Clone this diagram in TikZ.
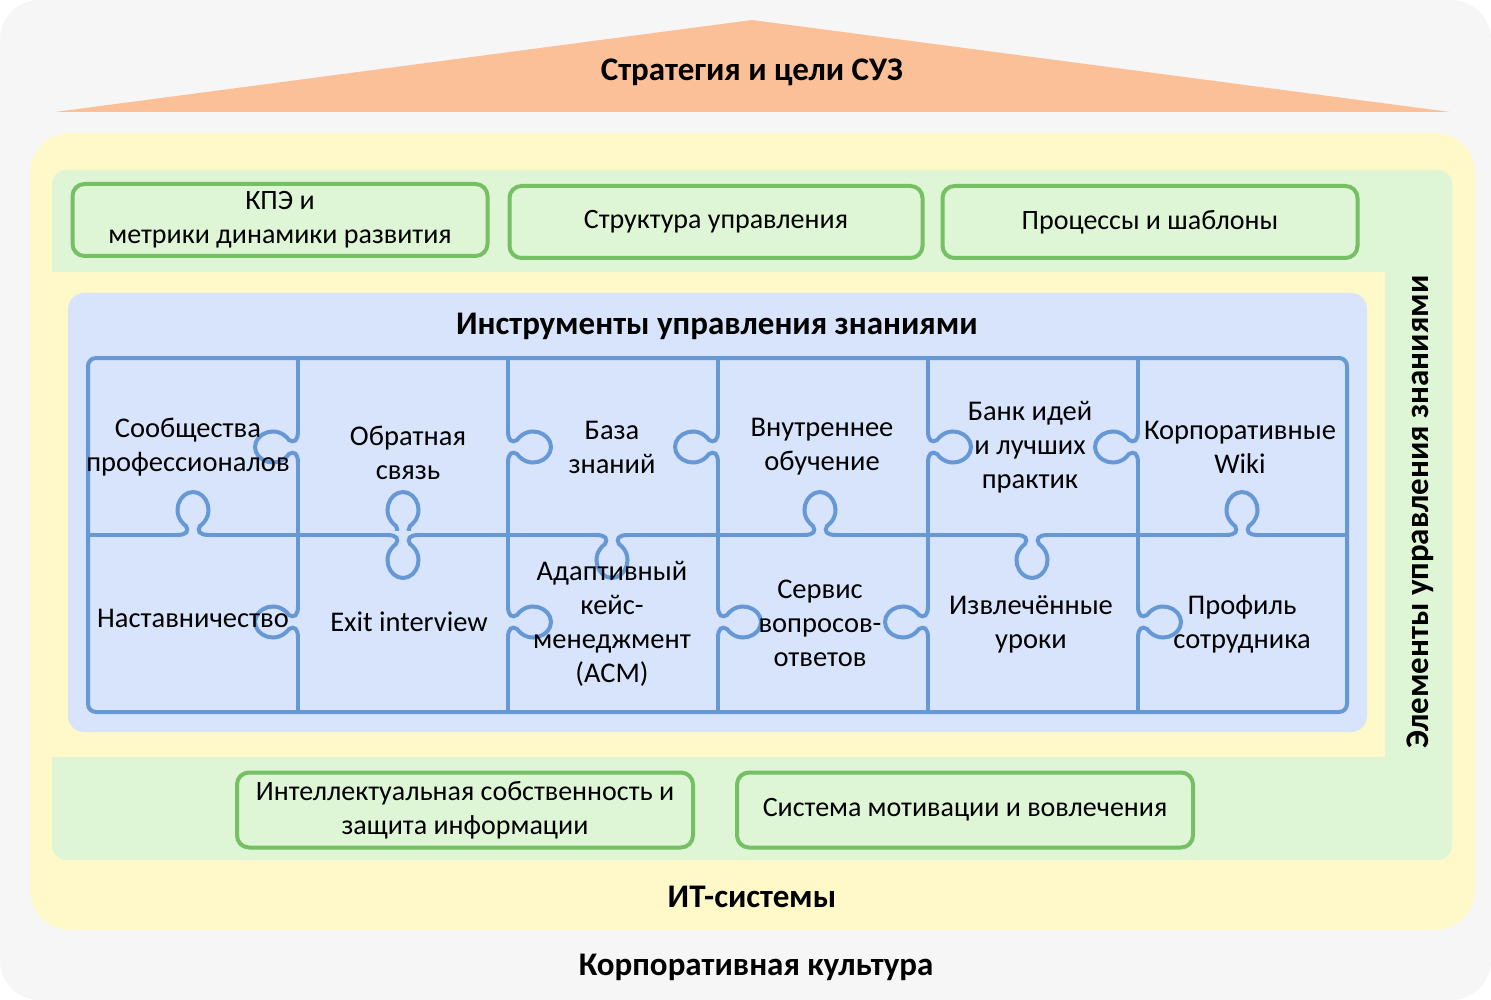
\documentclass[tikz,border=0pt]{standalone}
\usepackage{fontspec}
\setmainfont{Carlito}
\usepackage{xcolor}
\usepackage{tikz}
\usetikzlibrary{positioning, calc}
\definecolor{pagegray}{RGB}{246,246,246}
\definecolor{roof}{RGB}{251,192,152}
\definecolor{itfill}{RGB}{255,248,200}
\definecolor{elemfill}{RGB}{222,245,214}
\definecolor{boxline}{RGB}{116,192,98}
\definecolor{panelblue}{RGB}{215,228,251}
\definecolor{puzzleblue}{RGB}{102,152,214}
\tikzstyle{greenbox} = [draw=boxline, line width=4pt, fill=elemfill, rounded corners=12pt, align=center, inner sep=0pt, font=\fontsize{28}{34}\selectfont]
\tikzstyle{celltext} = [align=center, font=\fontsize{28.5}{34}\selectfont]
\tikzstyle{titletext} = [font=\fontsize{33}{38}\selectfont\bfseries]
\tikzstyle{puzzle} = [draw=puzzleblue, line width=4pt]
\newcommand{\knob}[3]{%
  \begin{scope}[shift={(#1,#2)}, rotate=#3]
    \fill[panelblue] (-16,-4) rectangle (16,4);
    \draw[puzzle] (-16,0) .. controls (-6,0) and (-4,4) .. (-7,9)
      .. controls (-23,21) and (-14,43) .. (0,43)
      .. controls (14,43) and (23,21) .. (7,9)
      .. controls (4,4) and (6,0) .. (16,0);
  \end{scope}}
\begin{document}
\begin{tikzpicture}[x=1pt, y=-1pt]
        \useasboundingbox (0,0) rectangle (1491,1000);
        \fill[white] (0,0) rectangle (1491,1000);
        \fill[pagegray, rounded corners=40pt] (0,0) rectangle (1491,1000);
        % roof
        \fill[roof] (55,112) -- (752,20) -- (1450,112) -- cycle;
        \node[titletext] (strategy) at (752,72) {Стратегия и цели СУЗ};
        % IT systems and knowledge management elements
        \fill[itfill, rounded corners=40pt] (30,133) rectangle (1475,930);
        \fill[elemfill, rounded corners=14pt] (52,170) rectangle (1452,860);
        \fill[itfill] (52,272) rectangle (1385,757);
        \node[greenbox, minimum width=415pt, minimum height=72pt] (kpe) at (280,220) {КПЭ и\\метрики динамики развития};
        \node[greenbox, minimum width=413pt, minimum height=72pt] (struct) at (716,222) {Структура управления};
        \node[greenbox, minimum width=415pt, minimum height=72pt] (proc) at (1150,222) {Процессы и шаблоны};
        \node[greenbox, minimum width=456pt, minimum height=75pt] (ip) at (465,810) {Интеллектуальная собственность и\\защита информации};
        \node[greenbox, minimum width=456pt, minimum height=75pt] (motiv) at (965,810) {Система мотивации и вовлечения};
        \node[titletext, rotate=90] (elements) at (1420,512) {Элементы управления знаниями};
        \node[titletext] (it) at (752,897) {ИТ-системы};
        \node[titletext] (culture) at (756,967) {Корпоративная культура};
        % knowledge management tools
        \fill[panelblue, rounded corners=16pt] (68,293) rectangle (1367,732);
        \node[titletext] (tools) at (717,326) {Инструменты управления знаниями};
        \draw[puzzle, rounded corners=8pt] (88,358) rectangle (1347,712);
        \draw[puzzle] (88,535) -- (1347,535);
        \draw[puzzle] (298,358) -- (298,712);
        \draw[puzzle] (508,358) -- (508,712);
        \draw[puzzle] (718,358) -- (718,712);
        \draw[puzzle] (928,358) -- (928,712);
        \draw[puzzle] (1138,358) -- (1138,712);
        % knobs
        \knob{193}{535}{180}
        \knob{403}{535}{180}
        \knob{403}{535}{0}
        \knob{612}{535}{0}
        \knob{820}{535}{180}
        \knob{1032}{535}{0}
        \knob{1242}{535}{180}
        \knob{298}{447}{-90}
        \knob{508}{447}{90}
        \knob{718}{447}{-90}
        \knob{928}{447}{90}
        \knob{1138}{447}{-90}
        \knob{298}{622}{-90}
        \knob{508}{622}{90}
        \knob{718}{622}{90}
        \knob{928}{622}{-90}
        \knob{1138}{622}{90}
        % pieces
        \node[celltext] (communities) at (188,447) {Сообщества\\профессионалов};
        \node[celltext] (feedback) at (408,453) {Обратная\\связь};
        \node[celltext] (kbase) at (612,447) {База\\знаний};
        \node[celltext] (training) at (822,447) {Внутреннее\\обучение};
        \node[celltext] (ideas) at (1030,447) {Банк идей\\и лучших\\практик};
        \node[celltext] (wiki) at (1240,447) {Корпоративные\\Wiki};
        \node[celltext] (mentoring) at (193,618) {Наставничество};
        \node[celltext] (exit) at (409,622) {Exit interview};
        \node[celltext] (acm) at (612,624) {Адаптивный\\кейс-\\менеджмент\\(ACM)};
        \node[celltext] (qa) at (820,623) {Сервис\\вопросов-\\ответов};
        \node[celltext] (lessons) at (1031,624) {Извлечённые\\уроки};
        \node[celltext] (profile) at (1242,624) {Профиль\\сотрудника};
        \end{tikzpicture}
\end{document}
